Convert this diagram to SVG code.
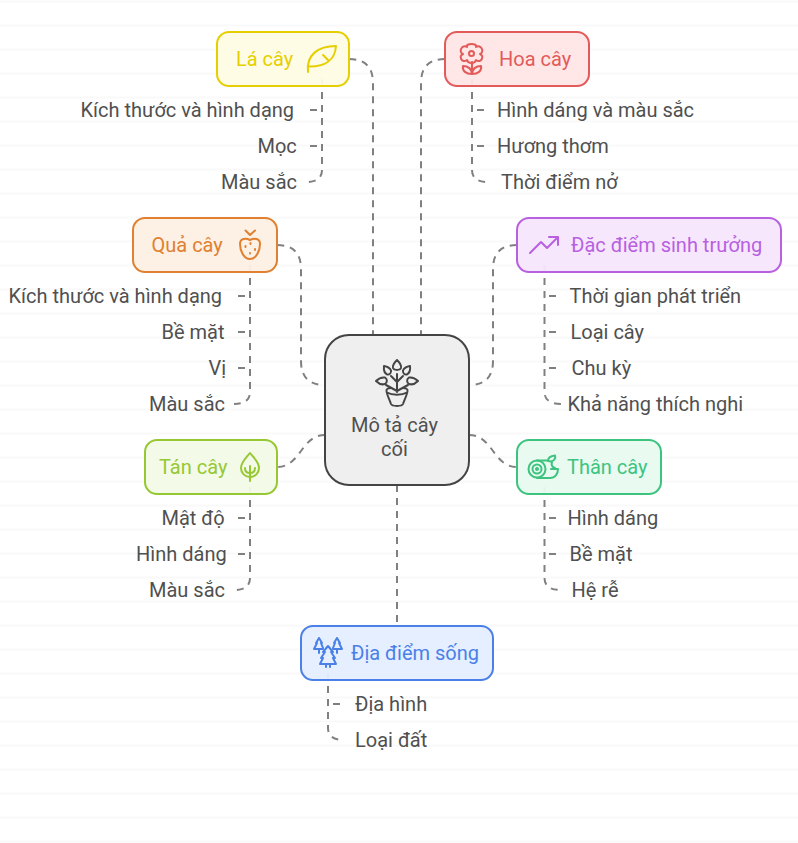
<svg xmlns="http://www.w3.org/2000/svg" width="798" height="843" viewBox="0 0 798 843">
<style>
text{font-family:Roboto,"Noto Sans",sans-serif;font-size:20px}
.t{fill:#505050}
.c{fill:none;stroke:#808080;stroke-width:2;stroke-dasharray:7 6}
.i{fill:none;stroke-width:2;stroke-linecap:round;stroke-linejoin:round}
.n{stroke-width:2}
.bg{stroke:#f9f9f9;stroke-width:2}
</style>
<rect width="798" height="843" fill="#fff"/>
<g id="background"><path class="bg" d="M0 1.500H798M0 25.500H798M0 49.500H798M0 73.500H798M0 97.500H798M0 121.500H798M0 145.500H798M0 169.500H798M0 193.500H798M0 217.500H798M0 241.500H798M0 265.500H798M0 289.500H798M0 313.500H798M0 337.500H798M0 361.500H798M0 385.500H798M0 409.500H798M0 433.500H798M0 457.500H798M0 481.500H798M0 505.500H798M0 529.500H798M0 553.500H798M0 577.500H798M0 601.500H798M0 625.500H798M0 649.500H798M0 673.500H798M0 697.500H798M0 721.500H798M0 745.500H798M0 769.500H798M0 793.500H798M0 817.500H798M0 841.500H798"/></g>
<g id="connectors">
<path class="c" d="M349 59Q373 59 373 83V335"/>
<path class="c" d="M445 59Q421 59 421 83V335"/>
<path class="c" d="M277 245Q301 245 301 269V361Q301 385 325 385"/>
<path class="c" d="M517 245Q493 245 493 269V361Q493 385 469 385"/>
<path class="c" d="M325 435C301 435 301 467 277 467"/>
<path class="c" d="M469 435C493 435 493 467 517 467"/>
<path class="c" d="M397 485V626"/>
<path class="c" d="M322 79V170Q322 182 306 182"/><path class="c" d="M310 110H322M310 146H322"/>
<path class="c" d="M472 79V170Q472 182 488 182"/><path class="c" d="M484 110H472M484 146H472"/>
<path class="c" d="M250 265V392Q250 404 234 404"/><path class="c" d="M238 296H250M238 332H250M238 368H250"/>
<path class="c" d="M544.500 265V392Q544.500 404 562 404"/><path class="c" d="M556 296H544.500M556 332H544.500M556 368H544.500"/>
<path class="c" d="M250 487V578Q250 590 234 590"/><path class="c" d="M238 518H250M238 554H250"/>
<path class="c" d="M544.500 487V578Q544.500 590 561 590"/><path class="c" d="M556 518H544.500M556 554H544.500"/>
<path class="c" d="M328 673V728Q328 740 344 740"/><path class="c" d="M340 704H328"/>
</g>
<g id="node-center">
<rect class="n" x="325" y="335" width="144" height="150" rx="24" fill="#eee" fill-opacity=".93" stroke="#444"/>
<g class="i" stroke="#444"><path d="M397 374V392M397 382L391 376M397 382L403 376M397 391L386 385M397 391L408 385"/><path d="M397 360C394 363 392.500 366 393 368C394 370.500 400 370.500 401 368C401.500 366 400 363 397 360Z"/><path d="M384 366C383.500 370 384.500 373 387 374.500C389.500 375 391.500 373 391 370.500C390 368 387 366.500 384 366Z"/><path d="M410 366C410.500 370 409.500 373 407 374.500C404.500 375 402.500 373 403 370.500C404 368 407 366.500 410 366Z"/><path d="M376 381C379 378 382 377 385 377.500C387.500 379 387.500 382.500 385 384C382 385 379 384 376 381Z"/><path d="M418 381C415 378 412 377 409 377.500C406.500 379 406.500 382.500 409 384C412 385 415 384 418 381Z"/><path d="M391 388C388 388 386 389 386.500 391C387 395 390 401 391 404C392 406.500 402 406.500 403 404C404 401 407 395 407.500 391C408 389 406 388 403 388M387 392.500C392 395.500 402 395.500 407 392.500"/></g>
<text class="t" x="351" y="432">Mô tả cây</text><text class="t" x="381" y="456">cối</text>
</g>
<g id="node-la-cay">
<rect class="n" x="217" y="32" width="132" height="54" rx="12" fill="#fefce3" fill-opacity=".95" stroke="#e6cf00"/>
<text x="236" y="66" fill="#e6cf00">Lá cây</text>
<path class="i" stroke="#e6cf00" d="M308 72C306 55 318 46 336 46C335 60 325 67 308 66.500M323 55L328 60"/>
</g>
<g id="node-hoa-cay">
<rect class="n" x="445" y="32" width="144" height="54" rx="12" fill="#ffe6e6" fill-opacity=".95" stroke="#e35a5a"/>
<text x="499" y="66" fill="#e35a5a">Hoa cây</text>
<g class="i" stroke="#e35a5a"><circle cx="471.500" cy="53.500" r="2.500"/><path d="M467 47C465 43 478 43 476 47C481 44 485 52 480 54C485 56 481 64 476 60C475 64 468 64 467 60C462 64 458 56 463 54C458 52 462 44 467 47Z"/><path d="M472 62V74M472 74C466 74 462 71 463 66C468 66 472 69 472 74C472 69 476 66 481 66C482 71 478 74 472 74Z"/></g>
</g>
<g id="node-qua-cay">
<rect class="n" x="133" y="218" width="144" height="54" rx="12" fill="#fdf0e4" fill-opacity=".95" stroke="#e08030"/>
<text x="151.500" y="252" fill="#e08030">Quả cây</text>
<g class="i" stroke="#e08030"><path d="M245.500 230.500L250 235L255 230.500"/><path d="M250 240C254 238 260 238 260 244C260 251 256 259 250 259C244 259 240 251 240 244C240 238 246 238 250 240Z"/><path d="M245.500 246V247M250.500 243V244M255 249V250M250 253V253.500"/></g>
</g>
<g id="node-dac-diem">
<rect class="n" x="517" y="218" width="264" height="54" rx="12" fill="#f6e6fd" fill-opacity=".95" stroke="#b860e0"/>
<text x="571" y="252" fill="#b860e0">Đặc điểm sinh trưởng</text>
<path class="i" stroke="#b860e0" d="M530 253L541 242L547 248L558 237M549 237H558V245"/>
</g>
<g id="node-tan-cay">
<rect class="n" x="145" y="440" width="132" height="54" rx="12" fill="#f2fae6" fill-opacity=".95" stroke="#96c832"/>
<text x="159" y="474" fill="#96c832">Tán cây</text>
<g class="i" stroke="#96c832"><path d="M250 453C246 458 241 462 241 468C241 473 245 477 250 477C255 477 259 473 259 468C259 462 254 458 250 453Z"/><path d="M250 466V481M250 473C247 473 245 471 245 468M250 473C253 473 255 471 255 468"/></g>
</g>
<g id="node-than-cay">
<rect class="n" x="517" y="440" width="144" height="54" rx="12" fill="#e8faf0" fill-opacity=".95" stroke="#3cc47f"/>
<text x="567" y="474" fill="#3cc47f">Thân cây</text>
<g class="i" stroke="#3cc47f"><circle cx="537" cy="469" r="8.500"/><circle cx="537" cy="469" r="4.500"/><circle cx="537" cy="469" r="1"/><path d="M537 478H550C555 478 558 474 558 469H551M537 460.500H548M552 462C551 465 552 467 555 468M548 461C548 458 551 456 555 455.500C556 458 554 461 551 461.500Z"/></g>
</g>
<g id="node-dia-diem">
<rect class="n" x="301" y="626" width="192" height="54" rx="12" fill="#e4eeff" fill-opacity=".95" stroke="#4a80e8"/>
<text x="351" y="660" fill="#4a80e8">Địa điểm sống</text>
<g class="i" stroke="#4a80e8"><path d="M328 646L323 652H325L321 658H323L320 664H336L333 658H335L331 652H333ZM326 664V667M330 664V667"/><path d="M319 638L316 643H317L314 649H319V653M319 649H323M319 638L322 643H321L323 648"/><path d="M337 638L334 643H335L333 648M337 638L340 643H339L342 649H337V653M337 649H333"/></g>
</g>
<g id="labels">
<text class="t" x="80.500" y="117">Kích thước và hình dạng</text>
<text class="t" x="257.500" y="153">Mọc</text>
<text class="t" x="221" y="189">Màu sắc</text>
<text class="t" x="497" y="117">Hình dáng và màu sắc</text>
<text class="t" x="497" y="153">Hương thơm</text>
<text class="t" x="501" y="189">Thời điểm nở</text>
<text class="t" x="8.500" y="303">Kích thước và hình dạng</text>
<text class="t" x="161.500" y="339">Bề mặt</text>
<text class="t" x="208.500" y="375">Vị</text>
<text class="t" x="149" y="411">Màu sắc</text>
<text class="t" x="569.500" y="303">Thời gian phát triển</text>
<text class="t" x="570.500" y="339">Loại cây</text>
<text class="t" x="571.500" y="375">Chu kỳ</text>
<text class="t" x="567.500" y="411">Khả năng thích nghi</text>
<text class="t" x="161.500" y="525">Mật độ</text>
<text class="t" x="136" y="561">Hình dáng</text>
<text class="t" x="149" y="597">Màu sắc</text>
<text class="t" x="567.500" y="525">Hình dáng</text>
<text class="t" x="569.500" y="561">Bề mặt</text>
<text class="t" x="571.500" y="597">Hệ rễ</text>
<text class="t" x="355" y="711">Địa hình</text>
<text class="t" x="355" y="747">Loại đất</text>
</g>
</svg>
